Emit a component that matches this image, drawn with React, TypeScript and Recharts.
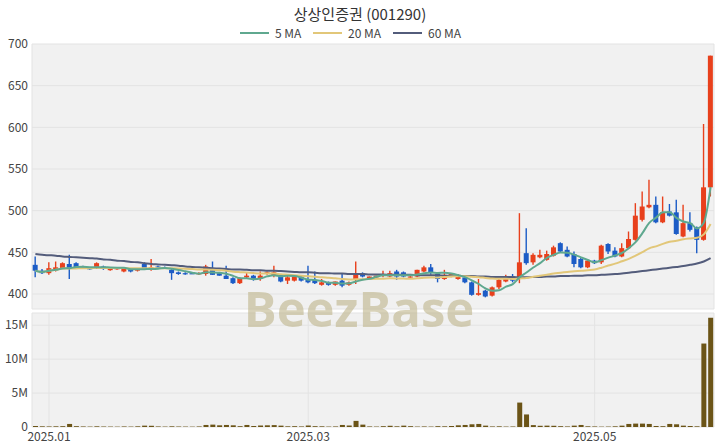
import React from 'react';
import { ComposedChart, Bar, Line, XAxis, YAxis, CartesianGrid } from 'recharts';

// ---- data ----
const tradingDays: [string, number[]][] = [
  ['2024-12', [27, 30]],
  ['2025-01', [2, 3, 6, 7, 8, 9, 10, 13, 14, 15, 16, 17, 20, 21, 22, 23, 24, 31]],
  ['2025-02', [3, 4, 5, 6, 7, 10, 11, 12, 13, 14, 17, 18, 19, 20, 21, 24, 25, 26, 27, 28]],
  ['2025-03', [4, 5, 6, 7, 10, 11, 12, 13, 14, 17, 18, 19, 20, 21, 24, 25, 26, 27, 28, 31]],
  ['2025-04', [1, 2, 3, 4, 7, 8, 9, 10, 11, 14, 15, 16, 17, 18, 21, 22, 23, 24, 25, 28, 29, 30]],
  ['2025-05', [2, 7, 8, 9, 12, 13, 14, 15, 16, 19, 20, 21, 22, 23, 26, 27, 28, 29]],
];
const dates: string[] = tradingDays.flatMap(([m, ds]) => ds.map((d) => `${m}-${String(d).padStart(2, '0')}`));

const opens = [
  435, 428, 425, 430, 431, 436, 437, 433, 431, 431, 433, 429, 430, 427, 429, 428, 436, 430, 433, 432,
  429, 426, 425, 425, 424, 424, 429, 425, 422, 419, 413, 420, 422, 418, 424, 422, 423, 416, 416, 421,
  418, 417, 411, 414, 411, 416, 411, 417, 425, 419, 420, 422, 421, 427, 426, 420, 421, 427, 432, 424,
  418, 421, 418, 420, 414, 399, 404, 398, 408, 415, 421, 418, 449, 438, 444, 441, 446, 461, 453, 448,
  442, 432, 440, 438, 460, 452, 445, 455, 465, 489, 504, 507, 486, 499, 498, 469, 485, 480, 465, 528,
];
const highs = [
  445, 430, 438, 439, 438, 447, 438, 434, 432, 438, 434, 431, 432, 432, 430, 431, 438, 442, 434, 433,
  430, 427, 426, 426, 426, 435, 439, 426, 434, 420, 420, 425, 423, 427, 427, 434, 424, 422, 422, 422,
  434, 427, 418, 415, 415, 424, 415, 439, 426, 421, 422, 428, 428, 429, 427, 422, 429, 434, 436, 425,
  429, 425, 424, 421, 415, 418, 405, 409, 418, 423, 424, 497, 479, 449, 453, 452, 458, 462, 457, 451,
  444, 441, 441, 459, 461, 456, 461, 475, 509, 523, 537, 517, 517, 508, 513, 507, 498, 481, 604, 686,
];
const lows = [
  420, 424, 423, 427, 430, 418, 431, 431, 429, 430, 429, 428, 429, 426, 426, 427, 429, 428, 431, 430,
  417, 423, 423, 424, 423, 422, 423, 422, 418, 412, 412, 419, 416, 416, 423, 420, 414, 412, 415, 415,
  413, 412, 410, 410, 410, 408, 410, 412, 420, 418, 419, 420, 420, 417, 420, 419, 420, 426, 423, 414,
  417, 420, 417, 413, 398, 398, 396, 397, 406, 414, 414, 413, 435, 435, 443, 440, 445, 450, 444, 432,
  431, 431, 436, 436, 448, 444, 444, 454, 464, 487, 503, 485, 485, 493, 471, 468, 475, 449, 464, 517,
];
const closes = [
  428, 425, 431, 432, 437, 430, 432, 432, 430, 437, 430, 430, 431, 430, 427, 430, 431, 432, 432, 431,
  425, 424, 424, 424, 425, 433, 423, 422, 418, 413, 419, 422, 417, 422, 426, 426, 415, 420, 421, 416,
  414, 413, 414, 411, 415, 410, 414, 425, 421, 421, 422, 424, 425, 421, 421, 421, 429, 432, 426, 418,
  423, 424, 422, 414, 399, 401, 397, 408, 417, 421, 416, 438, 437, 447, 447, 448, 456, 451, 445, 436,
  432, 440, 437, 458, 451, 445, 455, 466, 494, 505, 507, 486, 498, 494, 472, 485, 477, 465, 528, 686,
];
const ma60 = [
  448, 447, 446.5, 446, 445, 444.5, 444, 443.5, 443, 442.5, 441.5, 441, 440, 439.5, 438.5, 438, 437, 436, 435.5, 435,
  434.5, 434, 433, 432.5, 432, 431.5, 431, 430.5, 430, 429.5, 429.5, 429, 428.5, 428.5, 428, 428, 427.5, 427, 426.5, 426,
  426, 425.5, 425, 425, 424.5, 424.5, 424, 424, 424, 423.5, 423.5, 423.5, 423, 423, 423, 423, 422.5, 422.5, 422.5, 422.5,
  422, 422, 422, 421.5, 421.5, 421, 421, 420.5, 420.5, 420.5, 420.5, 420, 420, 420.5, 420.5, 421, 421, 421.5, 421.5, 422,
  422, 422.5, 422.5, 423, 423.5, 424, 424.5, 425.5, 426.5, 427.5, 428.5, 429.5, 430.5, 431.5, 432.5, 433.5, 435, 436.5, 439, 443,
];
// volume in millions of shares
const volumesM = [
  0.15, 0.1, 0.08, 0.1, 0.12, 0.45, 0.12, 0.08, 0.06, 0.1, 0.07, 0.06, 0.05, 0.08, 0.06, 0.1, 0.2, 0.18, 0.08, 0.06,
  0.1, 0.07, 0.06, 0.05, 0.08, 0.3, 0.35, 0.25, 0.3, 0.25, 0.12, 0.3, 0.15, 0.22, 0.25, 0.28, 0.2, 0.1, 0.12, 0.08,
  0.22, 0.12, 0.1, 0.06, 0.08, 0.3, 0.22, 0.9, 0.35, 0.08, 0.06, 0.12, 0.18, 0.1, 0.2, 0.12, 0.06, 0.08, 0.06, 0.12,
  0.1, 0.15, 0.25, 0.3, 0.4, 0.45, 0.2, 0.08, 0.1, 0.06, 0.08, 3.6, 1.85, 0.28, 0.18, 0.2, 0.18, 0.12, 0.08, 0.2,
  0.3, 0.1, 0.08, 0.05, 0.06, 0.1, 0.2, 0.45, 0.5, 0.5, 0.45, 0.15, 0.12, 0.45, 0.4, 0.2, 0.15, 0.1, 12.3, 16.1,
];

const priceTicks = [400, 450, 500, 550, 600, 650, 700];
const volumeTicks = [0, 5e6, 10e6, 15e6];
const gridDateIdx = [0, 20, 40, 60, 80];
const labelDates = ['2025-01-02', '2025-03-04', '2025-05-02'];

const TITLE = '상상인증권 (001290)';
const UP = '#e8401c';
const DOWN = '#1c5cc6';
const MA5_C = '#5fa88f';
const MA20_C = '#e2c779';
const MA60_C = '#535c7b';
const VOL_C = '#6b5417';
const FONT = "'Noto Sans CJK KR', 'Noto Sans', sans-serif";

const movingAvg = (n: number) =>
  closes.map((_, i) => {
    const s = closes.slice(Math.max(0, i - n + 1), i + 1);
    return Math.round((s.reduce((a, b) => a + b, 0) / s.length) * 10) / 10;
  });
const ma5 = movingAvg(5);
const ma20 = movingAvg(20);

const data = dates.map((date, i) => ({
  date,
  open: opens[i],
  high: highs[i],
  low: lows[i],
  close: closes[i],
  range: [lows[i], highs[i]],
  ma5: ma5[i],
  ma20: ma20[i],
  ma60: ma60[i],
  volume: volumesM[i] * 1e6,
}));

const Candle = (props: any) => {
  const { x, y, width, height, payload } = props;
  if (!payload) return null;
  const { open, close, high, low } = payload;
  const color = close >= open ? UP : DOWN;
  const cx = x + width / 2;
  const ratio = height / (high - low || 1);
  const yOf = (v: number) => y + (high - v) * ratio;
  const top = yOf(Math.max(open, close));
  const bot = yOf(Math.min(open, close));
  const bw = 5;
  return (
    <g>
      <line x1={cx} x2={cx} y1={y} y2={y + height} stroke={color} strokeWidth={1.4} />
      <rect x={cx - bw / 2} y={top} width={bw} height={Math.max(bot - top, 1.2)} fill={color} />
    </g>
  );
};

const tickStyle = { fontSize: 12, fill: '#444', fontFamily: FONT };

const legendItems = [
  { label: '5 MA', color: MA5_C, x: 240 },
  { label: '20 MA', color: MA20_C, x: 313 },
  { label: '60 MA', color: MA60_C, x: 393 },
];

export default function App() {
  return (
    <div style={{ position: 'relative', width: 720, height: 448, background: '#fff', fontFamily: FONT }}>
      <style>{'body{margin:0}'}</style>
      <div
        style={{
          position: 'absolute', top: 3, left: 0, width: 720, textAlign: 'center',
          fontSize: 15, color: '#333', lineHeight: '22px',
        }}
      >
        {TITLE}
      </div>
      {legendItems.map((it) => (
        <div key={it.label} style={{ position: 'absolute', top: 25, left: it.x, height: 16, display: 'flex', alignItems: 'center' }}>
          <div style={{ width: 29, height: 2, background: it.color }} />
          <span style={{ marginLeft: 6, fontSize: 12, color: '#444', lineHeight: '16px' }}>{it.label}</span>
        </div>
      ))}
      <div style={{ position: 'absolute', top: 0, left: 0 }}>
        <ComposedChart width={720} height={312} data={data} margin={{ top: 44, right: 6, bottom: 3, left: 0 }}>
          <CartesianGrid stroke="#e3e3e3" fill="#f1f1f1" />
          <XAxis
            dataKey="date"
            ticks={gridDateIdx.map((i) => dates[i])}
            interval={0}
            tick={false}
            tickLine={false}
            axisLine={false}
            height={0}
          />
          <YAxis
            width={32}
            domain={[382, 700]}
            ticks={priceTicks}
            allowDataOverflow
            tickLine={false}
            axisLine={false}
            tickSize={0}
            tickMargin={4}
            tick={tickStyle}
          />
          <Line type="monotone" dataKey="ma60" stroke={MA60_C} strokeWidth={2} dot={false} isAnimationActive={false} />
          <Line type="monotone" dataKey="ma20" stroke={MA20_C} strokeWidth={2} dot={false} isAnimationActive={false} />
          <Line type="monotone" dataKey="ma5" stroke={MA5_C} strokeWidth={2} dot={false} isAnimationActive={false} />
          <Bar dataKey="range" shape={<Candle />} isAnimationActive={false} />
        </ComposedChart>
      </div>
      <div style={{ position: 'absolute', top: 312, left: 0 }}>
        <ComposedChart width={720} height={136} data={data} margin={{ top: 1, right: 6, bottom: 0, left: 0 }}>
          <CartesianGrid stroke="#e3e3e3" fill="#f1f1f1" />
          <XAxis
            dataKey="date"
            ticks={labelDates}
            interval={0}
            height={21}
            tickLine={false}
            axisLine={false}
            tickSize={0}
            tickMargin={5}
            tick={tickStyle}
            tickFormatter={(d: string) => d.slice(0, 7).replace('-', '.')}
          />
          <YAxis
            width={32}
            domain={[0, 16.8e6]}
            ticks={volumeTicks}
            allowDataOverflow
            tickLine={false}
            axisLine={false}
            tickSize={0}
            tickMargin={4}
            tick={tickStyle}
            tickFormatter={(v: number) => (v === 0 ? '0' : `${v / 1e6}M`)}
          />
          <Bar dataKey="volume" fill={VOL_C} barSize={5} isAnimationActive={false} />
        </ComposedChart>
      </div>
      <svg width={720} height={448} style={{ position: 'absolute', top: 0, left: 0, pointerEvents: 'none' }}>
        <text
          x={359}
          y={327}
          textAnchor="middle"
          fontFamily="'Open Sans', sans-serif"
          fontWeight={700}
          fontSize={49}
          fill="rgba(190, 180, 138, 0.6)"
        >
          BeezBase
        </text>
      </svg>
    </div>
  );
}
